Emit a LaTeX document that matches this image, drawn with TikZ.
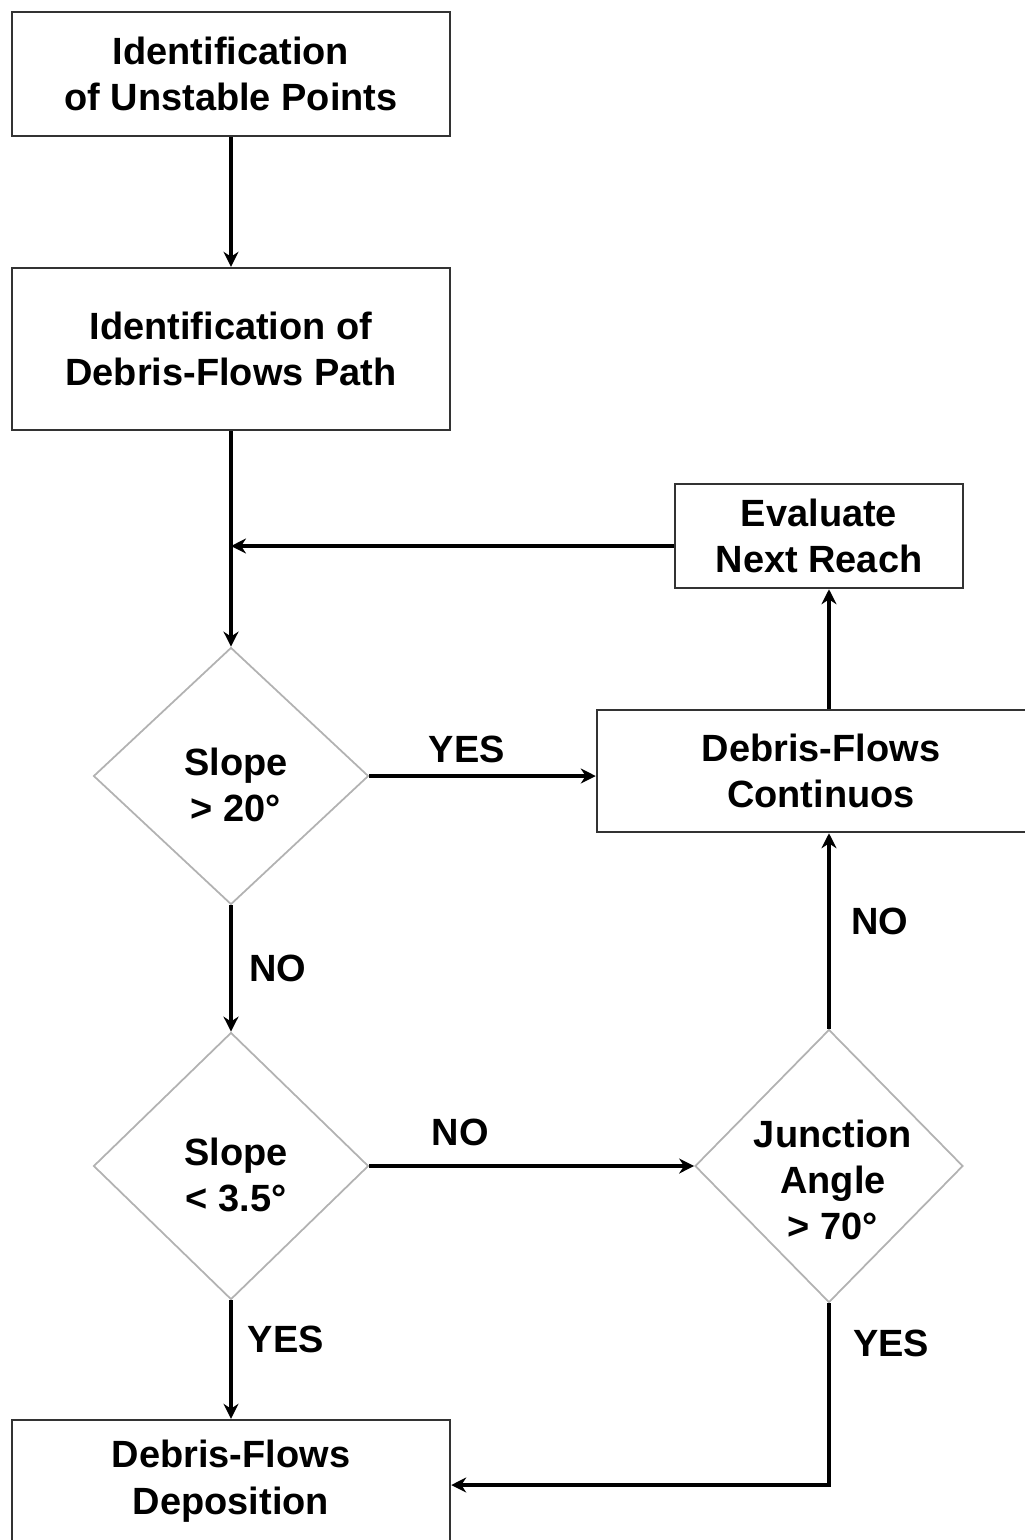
\documentclass[tikz,border=0pt]{standalone}
\usepackage{fontspec}
\setmainfont{Liberation Sans}
\usetikzlibrary{shapes.geometric,arrows.meta}

\tikzset{
	box/.style={draw=black!80, line width=0.7pt, align=center, inner sep=0pt},
	test/.style={draw=black!30, line width=0.5pt, diamond, inner sep=0pt},
	lbl/.style={align=center, inner sep=0pt},
	flow/.style={->, line width=0.9pt},
}

\begin{document}
\begin{tikzpicture}[>={Stealth[length=1.5mm, width=1.5mm]},
		every node/.style={font=\fontsize{10.8}{13.2}\selectfont\bfseries}]
	\useasboundingbox (0,0) rectangle (10.25,-15.40);
	% boxes
	\node[box, minimum width=4.38cm, minimum height=1.24cm] (ident) at (2.31,-0.74)
		{Identification\\of Unstable Points};
	\node[box, minimum width=4.38cm, minimum height=1.62cm] (path) at (2.31,-3.49)
		{Identification of\\Debris-Flows Path};
	\node[box, minimum width=2.88cm, minimum height=1.04cm] (next) at (8.19,-5.36)
		{Evaluate\\Next Reach};
	\node[box, minimum width=4.48cm, minimum height=1.22cm] (cont) at (8.21,-7.71)
		{Debris-Flows\\Continuos};
	\node[box, minimum width=4.38cm, minimum height=1.22cm] (depo) at (2.31,-14.81)
		{Debris-Flows\\Deposition};
	% decisions
	\node[test, minimum width=2.75cm, minimum height=2.57cm] (steep) at (2.31,-7.76) {};
	\node[lbl] (steeptxt) at (2.36,-7.85) {Slope\\> 20°};
	\node[test, minimum width=2.75cm, minimum height=2.67cm] (flat) at (2.31,-11.66) {};
	\node[lbl] (flattxt) at (2.36,-11.75) {Slope\\< 3.5°};
	\node[test, minimum width=2.68cm, minimum height=2.73cm] (junc) at (8.29,-11.66) {};
	\node[lbl] (junctxt) at (8.33,-11.80) {Junction\\Angle\\> 70°};
	% connectors
	\coordinate (merge) at (2.31,-5.46);
	\coordinate (corner) at (8.29,-14.85);
	\draw[flow] (ident) -- (path);
	\draw[flow] (path) -- (steep.north);
	\draw[flow] (next.west |- merge) -- (merge);
	\draw[flow] (steep.east) -- (steep.east -| cont.west)
		node[pos=0.43, above=0pt] (yes1) {YES};
	\draw[flow] (cont.north -| corner) -- (next.south -| corner);
	\draw[flow] (steep.south) -- (flat.north)
		node[midway, right=1.5pt] (no1) {NO};
	\draw[flow] (flat.east) -- (junc.west)
		node[pos=0.28, above=2pt] (no2) {NO};
	\draw[flow] (junc.north) -- (junc.north |- cont.south)
		node[pos=0.55, right=2.5pt] (no3) {NO};
	\draw[flow] (flat.south) -- (depo.north)
		node[pos=0.33, right=1pt] (yes2) {YES};
	\draw[flow] (junc.south) -- (corner) -- (corner -| depo.east);
	\node[lbl] (yes3) at (8.91,-13.43) {YES};
\end{tikzpicture}
\end{document}
